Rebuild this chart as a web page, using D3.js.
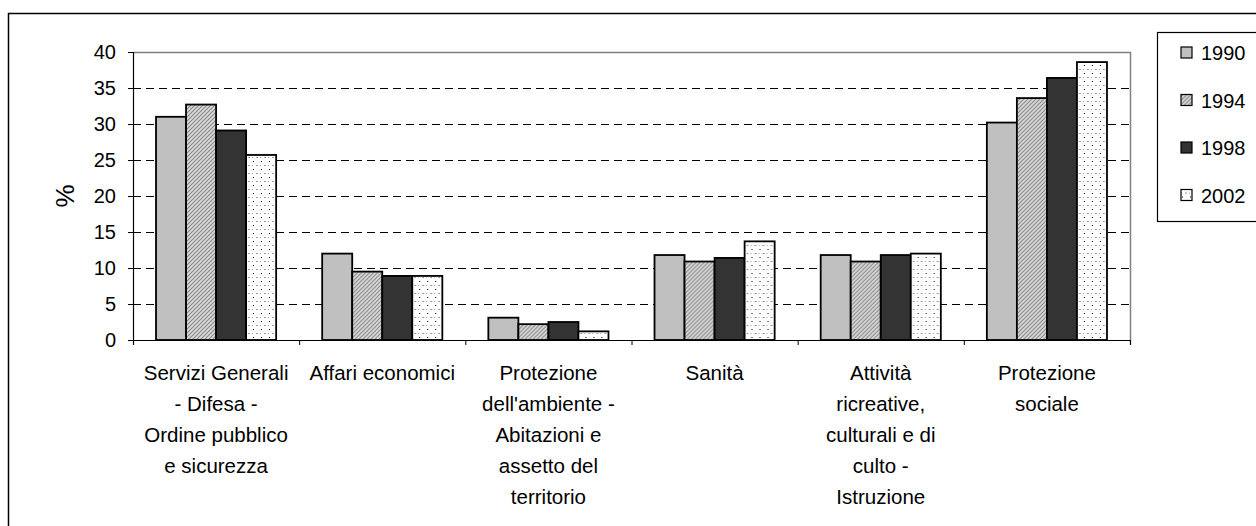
<!DOCTYPE html>
<html>
<head>
<meta charset="utf-8">
<script src="https://cdn.jsdelivr.net/npm/d3@7"></script>
<style>
  body { margin: 0; background: #fff; }
  svg text { font-family: 'Liberation Sans', Arial, sans-serif; fill: #000; }
</style>
</head>
<body>
<script>
// data
var categories = [
  ['Servizi Generali', '- Difesa -', 'Ordine pubblico', 'e sicurezza'],
  ['Affari economici'],
  ['Protezione', "dell'ambiente -", 'Abitazioni e', 'assetto del', 'territorio'],
  ['Sanità'],
  ['Attività', 'ricreative,', 'culturali e di', 'culto -', 'Istruzione'],
  ['Protezione', 'sociale']
];
var years = ['1990', '1994', '1998', '2002'];
var v1990 = [31.0, 12.0, 3.1, 11.8, 11.8, 30.2];
var v1994 = [32.7, 9.5, 2.2, 10.9, 10.9, 33.6];
var v1998 = [29.1, 8.9, 2.5, 11.4, 11.8, 36.4];
var v2002 = [25.7, 8.9, 1.2, 13.7, 12.0, 38.6];
var yTicks = [0, 5, 10, 15, 20, 25, 30, 35, 40];

var series = [v1990, v1994, v1998, v2002];
var fills = ['#c0c0c0', 'url(#hatch)', '#333333', 'url(#dots)'];

var width = 1256, height = 526;
var plot = { left: 133, right: 1130, top: 52, bottom: 340 };

var svg = d3.select('body')
  .append('svg')
  .attr('width', width)
  .attr('height', height);

var defs = svg.append('defs');

var hatch = defs.append('pattern')
  .attr('id', 'hatch')
  .attr('patternUnits', 'userSpaceOnUse')
  .attr('width', 4)
  .attr('height', 4);
hatch.append('rect').attr('width', 4).attr('height', 4).attr('fill', '#dcdcdc');
hatch.append('path')
  .attr('d', 'M-1,1 l2,-2 M0,4 l4,-4 M3,5 l2,-2')
  .attr('stroke', '#888')
  .attr('stroke-width', 1.2);

var dots = defs.append('pattern')
  .attr('id', 'dots')
  .attr('patternUnits', 'userSpaceOnUse')
  .attr('width', 8)
  .attr('height', 8);
dots.append('rect').attr('width', 8).attr('height', 8).attr('fill', '#fff');
dots.append('rect').attr('x', 1).attr('y', 1).attr('width', 1).attr('height', 1).attr('fill', '#000');
dots.append('rect').attr('x', 4).attr('y', 5).attr('width', 2).attr('height', 1).attr('fill', '#999');
dots.append('rect').attr('x', 0).attr('y', 5).attr('width', 1).attr('height', 1).attr('fill', '#999');

// outer chart border
svg.append('rect')
  .attr('x', 8.5)
  .attr('y', 13.5)
  .attr('width', 1400)
  .attr('height', 700)
  .attr('fill', 'none')
  .attr('stroke', '#000')
  .attr('stroke-width', 1.5);

var x = d3.scaleBand()
  .domain(d3.range(categories.length))
  .range([plot.left, plot.right])
  .paddingInner(0.277)
  .paddingOuter(0.1385);

var x1 = d3.scaleBand()
  .domain(years)
  .range([0, x.bandwidth()]);

var y = d3.scaleLinear()
  .domain([0, 40])
  .range([plot.bottom, plot.top]);

// dashed gridlines
svg.append('g')
  .selectAll('line')
  .data(yTicks.filter(d => d > 0 && d < 40))
  .enter()
  .append('line')
  .attr('x1', plot.left)
  .attr('x2', plot.right)
  .attr('y1', d => Math.round(y(d)) + 0.5)
  .attr('y2', d => Math.round(y(d)) + 0.5)
  .attr('stroke', '#000')
  .attr('stroke-dasharray', '8,5');

// plot area border (top and right)
svg.append('path')
  .attr('d', 'M' + plot.left + ',' + (plot.top + 0.5) + 'H' + (plot.right + 0.5) + 'V' + plot.bottom)
  .attr('fill', 'none')
  .attr('stroke', '#808080')
  .attr('stroke-width', 1.5);

// bars
var groups = svg.append('g')
  .selectAll('g')
  .data(categories)
  .enter()
  .append('g')
  .attr('transform', (d, i) => 'translate(' + x(i) + ',0)');

groups.selectAll('rect')
  .data((d, i) => series.map((s, k) => ({ year: years[k], value: s[i], k: k })))
  .enter()
  .append('rect')
  .attr('x', d => x1(d.year))
  .attr('y', d => y(d.value))
  .attr('width', x1.bandwidth())
  .attr('height', d => y(0) - y(d.value))
  .attr('fill', d => fills[d.k])
  .attr('stroke', '#000')
  .attr('stroke-width', 1.8);

// y axis
var yAxis = svg.append('g')
  .attr('transform', 'translate(' + plot.left + ',0)')
  .call(d3.axisLeft(y).tickValues(yTicks).tickSize(5).tickPadding(12));
yAxis.select('.domain').attr('stroke', '#000').attr('stroke-width', 1.2);
yAxis.selectAll('.tick line').attr('stroke', '#000');
yAxis.selectAll('.tick text')
  .style('font-size', '20px')
  .attr('font-family', null);

// x axis with ticks between categories
var xEdge = d3.scaleLinear()
  .domain([0, categories.length])
  .range([plot.left, plot.right]);
var xAxis = svg.append('g')
  .attr('transform', 'translate(0,' + plot.bottom + ')')
  .call(d3.axisBottom(xEdge).ticks(categories.length).tickSize(5).tickFormat(''));
xAxis.select('.domain').attr('stroke', '#000').attr('stroke-width', 1.2);
xAxis.selectAll('.tick line').attr('stroke', '#000');

// category labels
svg.append('g')
  .selectAll('text')
  .data(categories)
  .enter()
  .append('text')
  .attr('text-anchor', 'middle')
  .style('font-size', '20.5px')
  .attr('transform', (d, i) => 'translate(' + (x(i) + x.bandwidth() / 2) + ',380)')
  .selectAll('tspan')
  .data(d => d)
  .enter()
  .append('tspan')
  .attr('x', 0)
  .attr('y', (d, j) => j * 31)
  .text(d => d);

// y title
svg.append('text')
  .attr('transform', 'translate(74,' + (plot.top + plot.bottom) / 2 + ') rotate(-90)')
  .attr('text-anchor', 'middle')
  .style('font-size', '26px')
  .text('%');

// legend
var legend = svg.append('g')
  .attr('transform', 'translate(1157,32)');
legend.append('rect')
  .attr('x', 0.5)
  .attr('y', 0.5)
  .attr('width', 200)
  .attr('height', 189)
  .attr('fill', '#fff')
  .attr('stroke', '#000')
  .attr('stroke-width', 1.2);

var items = legend.selectAll('.item')
  .data(years)
  .enter()
  .append('g')
  .attr('class', 'item')
  .attr('transform', (d, i) => 'translate(0,' + (21 + i * 47.5) + ')');
items.append('rect')
  .attr('x', 24)
  .attr('y', -6)
  .attr('width', 11)
  .attr('height', 11)
  .attr('fill', (d, i) => fills[i])
  .attr('stroke', '#000')
  .attr('stroke-width', 1.2);
items.append('text')
  .attr('x', 44)
  .attr('dy', '0.35em')
  .style('font-size', '20px')
  .text(d => d);
</script>
</body>
</html>
